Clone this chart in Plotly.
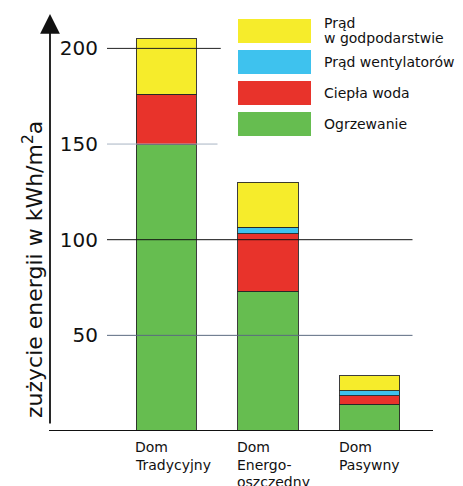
import plotly.graph_objects as go

categories = ["Dom<br>Tradycyjny", "Dom<br>Energo-<br>oszczedny", "Dom<br>Pasywny"]
series_names = ["Ogrzewanie", "Ciepła woda", "Prąd wentylatorów", "Prąd<br>w godpodarstwie"]
ogrzewanie = [150, 73, 14]
ciepla_woda = [26, 30, 4.5]
prad_went = [0, 3.5, 2.5]
prad_gosp = [29, 23.5, 8]
colors = ["#66BD50", "#E8332B", "#3EC2EE", "#F6EC2B"]
y_ticks = [50, 100, 150, 200]

series_values = [ogrzewanie, ciepla_woda, prad_went, prad_gosp]

W, H = 463, 486
L, R, T, B = 107, 31, 15, 55
pw, ph = W - L - R, H - T - B
px_per_unit = 1.913
FONT = "DejaVu Sans, Arial, sans-serif"

def xp(px):
    return (px - L) / pw

def yp(py):
    return (H - B - py) / ph

fig = go.Figure()
for name, vals, col in zip(series_names, series_values, colors):
    fig.add_trace(go.Bar(
        x=categories, y=vals, name=name,
        marker=dict(color=col, line=dict(color="rgba(40,40,40,0.9)", width=1)),
        width=0.59, showlegend=False,
    ))

shapes = []
grid_style = {200: ("#222222", 0.35), 150: ("#A8B4C4", 0.34), 100: ("#111111", 0.94), 50: ("#5A6A80", 0.94)}
for v in y_ticks:
    c, xe = grid_style[v]
    shapes.append(dict(type="line", xref="paper", yref="y", x0=0, x1=xe, y0=v, y1=v,
                       line=dict(color=c, width=1), layer="above"))
# bottom axis line
shapes.append(dict(type="line", xref="paper", yref="y", x0=xp(49), x1=xp(433), y0=0, y1=0,
                   line=dict(color="#111111", width=2), layer="above"))

annotations = []
# y axis arrow
annotations.append(dict(xref="paper", yref="paper", x=xp(50), y=yp(14), ax=0, ay=418,
                        axref="pixel", ayref="pixel", text=" ", showarrow=True,
                        arrowhead=2, arrowsize=2.2, arrowwidth=1.8, arrowcolor="#111111"))
# y axis title
annotations.append(dict(xref="paper", yref="paper", x=xp(17), y=yp(270),
                        text="zużycie energii w kWh/m<sup>2</sup>a", textangle=-90,
                        showarrow=False, font=dict(size=22, color="#111111")))
# category labels (one annotation per line for tight line spacing)
for cat in categories:
    for j, line in enumerate(cat.split("<br>")):
        annotations.append(dict(xref="x", yref="paper", x=cat, y=yp(447 + j * 17.5),
                                xshift=-33, xanchor="left", yanchor="middle", align="left",
                                text=line, showarrow=False,
                                font=dict(size=14, color="#111111")))

# custom legend (top entry = last series)
legend_order = list(range(len(series_names)))[::-1]
for i, idx in enumerate(legend_order):
    top = 19 + i * 31
    shapes.append(dict(type="rect", xref="paper", yref="paper",
                       x0=xp(238), x1=xp(311), y0=yp(top + 24), y1=yp(top),
                       fillcolor=colors[idx], line=dict(width=0)))
    lines = series_names[idx].split("<br>")
    n = len(lines)
    for j, line in enumerate(lines):
        cy = top + 12 + (j - (n - 1) / 2) * 15
        annotations.append(dict(xref="paper", yref="paper", x=xp(322), y=yp(cy),
                                xanchor="left", yanchor="middle", align="left",
                                text=line, showarrow=False,
                                font=dict(size=14, color="#111111")))

fig.update_layout(
    barmode="stack",
    width=W, height=H,
    margin=dict(l=L, r=R, t=T, b=B),
    paper_bgcolor="white", plot_bgcolor="white",
    font=dict(family=FONT, color="#111111"),
    xaxis=dict(range=[-0.58, 2.61], showticklabels=False, showgrid=False,
               zeroline=False, showline=False, ticks=""),
    yaxis=dict(range=[0, ph / px_per_unit], tickvals=y_ticks, showgrid=False,
               zeroline=False, showline=False, ticks="", ticklabelstandoff=8,
               tickfont=dict(size=20, color="#111111")),
    shapes=shapes, annotations=annotations,
)

fig.write_html("out.html", config={"displayModeBar": False},
               post_script="document.body.style.margin='0';")
